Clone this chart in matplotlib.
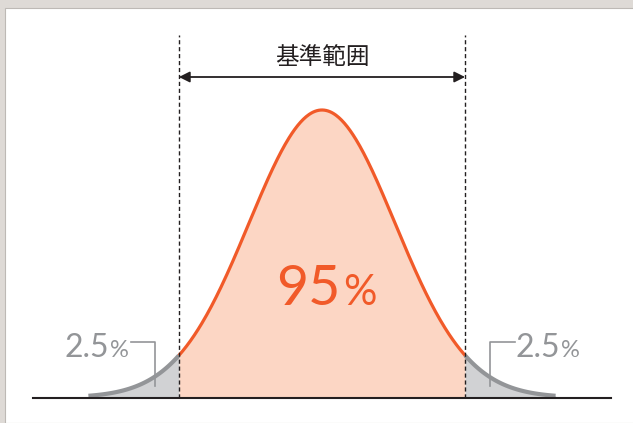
import numpy as np
import matplotlib.pyplot as plt
from matplotlib.patches import Rectangle

# reference range of a normal distribution (mean 0, sd 1)
mean = 0.0
sd = 1.0
cutoff = 1.96          # 95% central range
tail_end = 3.2         # where the drawn tails stop
title = '基準範囲'
center_pct = ['95', '%']
tail_pct = ['2.5', '%']

orange = '#f15a29'
orange_fill = '#fcd6c4'
grey = '#939598'
grey_fill = '#d1d2d4'
dark = '#231f20'
num_font = 'Lato'

def pdf(z):
    return np.exp(-0.5 * ((z - mean) / sd) ** 2) / (sd * np.sqrt(2 * np.pi))

z_mid = np.linspace(-cutoff, cutoff, 300)
z_left = np.linspace(-tail_end, -cutoff, 100)
z_right = np.linspace(cutoff, tail_end, 100)

# pixel mapping: centre at x=322px, 1 sd = 73px, baseline 25.5px from bottom
W, H = 633, 423
px_sd = 73.0
scale = 287.5 / pdf(mean)
fig = plt.figure(figsize=(W / 100, H / 100), dpi=100)
fig.patch.set_facecolor('#dedad6')
fig.add_artist(Rectangle((5 / W, 0), 1, (H - 8) / H, transform=fig.transFigure,
                         facecolor='white', edgecolor='#bdb9b5', lw=0.8, zorder=0))
ax = fig.add_axes([0, 0, 1, 1])
ax.set_xlim(-322 / px_sd, (W - 322) / px_sd)
ax.set_ylim(-25.5 / scale, (H - 25.5) / scale)
ax.axis('off')
ax.patch.set_alpha(0)

def zx(px):
    return (px - 322) / px_sd

def yy(px_from_top):
    return (H - 25.5 - px_from_top) / scale

ax.fill_between(z_mid, 0, pdf(z_mid), color=orange_fill, lw=0, zorder=1)
ax.fill_between(z_left, 0, pdf(z_left), color=grey_fill, lw=0, zorder=1)
ax.fill_between(z_right, 0, pdf(z_right), color=grey_fill, lw=0, zorder=1)
ax.plot(z_left, pdf(z_left), color=grey, lw=3, solid_capstyle='butt', zorder=2)
ax.plot(z_right, pdf(z_right), color=grey, lw=3, solid_capstyle='butt', zorder=2)
ax.plot(z_mid, pdf(z_mid), color=orange, lw=2.3, solid_capstyle='butt', zorder=3)

# baseline
ax.plot([zx(33), zx(611)], [0, 0], color=dark, lw=1.5, zorder=4)

# dashed limits
for s in (-1, 1):
    ax.plot([s * cutoff, s * cutoff], [0, yy(35)], color=dark, lw=1,
            ls=(0, (3, 2)), zorder=4)

# arrow
ax.annotate('', xy=(cutoff, yy(77)), xytext=(-cutoff, yy(77)),
            arrowprops=dict(arrowstyle='<|-|>', color=dark, lw=1.3,
                            mutation_scale=16, shrinkA=0, shrinkB=0))
ax.text(mean, yy(64), title, ha='center', va='baseline', fontsize=17,
        color=dark, family=['Noto Sans CJK JP', 'DejaVu Sans'])

# 95%
ax.text(zx(340), yy(305), center_pct[0], ha='right', va='baseline', fontsize=40,
        color=orange, family=num_font)
ax.text(zx(343), yy(305), center_pct[1], ha='left', va='baseline', fontsize=30,
        color=orange, family=num_font)

# 2.5% tails with leaders
ax.text(zx(109), yy(357), tail_pct[0], ha='right', va='baseline', fontsize=23,
        color=grey, family=num_font)
ax.text(zx(110), yy(357), tail_pct[1], ha='left', va='baseline', fontsize=17,
        color=grey, family=num_font)
ax.plot([zx(131), zx(155), zx(155)], [yy(342), yy(342), yy(386)],
        color=grey, lw=1.2, zorder=5)

ax.text(zx(560), yy(357), tail_pct[0], ha='right', va='baseline', fontsize=23,
        color=grey, family=num_font)
ax.text(zx(561), yy(357), tail_pct[1], ha='left', va='baseline', fontsize=17,
        color=grey, family=num_font)
ax.plot([zx(515), zx(490), zx(490)], [yy(342), yy(342), yy(386)],
        color=grey, lw=1.2, zorder=5)

fig.savefig('out.png', dpi=100)
